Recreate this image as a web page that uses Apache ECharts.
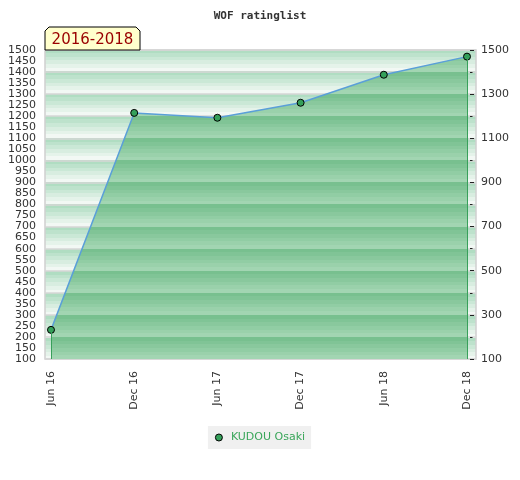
<!DOCTYPE html>
<html>
<head>
<meta charset="utf-8">
<script src="https://cdn.jsdelivr.net/npm/echarts@6/dist/echarts.min.js"></script>
<style>
    html, body { margin: 0; padding: 0; background: #fff; }
    #main { width: 520px; height: 480px; }
</style>
</head>
<body>
<div id="main"></div>
<script>
var months = ['Jun 16', 'Dec 16', 'Jun 17', 'Dec 17', 'Jun 18', 'Dec 18'];
var monthIdx = [0, 1, 2, 3, 4, 5];
var rating = [232, 1215, 1193, 1261, 1388, 1470];
var playerName = 'KUDOU Osaki';
var periodText = '2016-2018';
var yMin = 100, yMax = 1500;

var gridTop = 50, gridBottom = 121;
var gridH = 480 - gridTop - gridBottom;

function mix(a, b, t) {
    var r = '#';
    for (var i = 1; i < 7; i += 2) {
        var x = parseInt(a.substr(i, 2), 16), y = parseInt(b.substr(i, 2), 16);
        var v = Math.round(x + (y - x) * t).toString(16);
        r += (v.length < 2 ? '0' : '') + v;
    }
    return r;
}

// striped bands, one per 100 points, stepped from dark (top) to light (bottom)
function bandStops(dark, light) {
    var stops = [];
    var bands = (yMax - yMin) / 100, steps = 6;
    for (var k = 0; k < bands; k++) {
        for (var s = 0; s < steps; s++) {
            var c = mix(dark, light, s / (steps - 1));
            stops.push({ offset: (k + s / steps) / bands, color: c });
            stops.push({ offset: (k + (s + 1) / steps) / bands - 0.00001, color: c });
        }
    }
    return stops;
}

function plain(v) { return String(v); }

var myChart = echarts.init(document.getElementById('main'));

var option = {
    animation: false,
    title: {
        text: 'WOF ratinglist',
        left: 'center',
        top: 6,
        textStyle: { fontFamily: 'DejaVu Sans Mono', fontSize: 11, fontWeight: 'bold', color: '#333' }
    },
    legend: {
        data: [playerName],
        bottom: 31,
        left: 'center',
        icon: 'circle',
        itemWidth: 14,
        itemHeight: 7,
        padding: [6, 6, 6, 7],
        backgroundColor: '#f0f0f0',
        textStyle: { fontFamily: 'DejaVu Sans', fontSize: 11, color: '#3aa65a' },
        itemStyle: { borderColor: '#000', borderWidth: 1 }
    },
    grid: {
        left: 45,
        right: 44,
        top: gridTop,
        bottom: gridBottom,
        show: true,
        borderColor: '#d0d0d0',
        borderWidth: 1.5,
        backgroundColor: new echarts.graphic.LinearGradient(0, 0, 0, 1, bandStops('#b0ddc2', '#f2f8f4'))
    },
    graphic: [{
        type: 'polygon',
        z: 100,
        shape: { points: [[45, 50], [45, 31], [49, 27], [136, 27], [140, 31], [140, 50]] },
        style: { fill: '#ffffcc', stroke: '#000', lineWidth: 1 }
    }, {
        type: 'text',
        z: 101,
        x: 92.5,
        y: 40,
        style: {
            text: periodText, fill: '#990000', font: '15px "DejaVu Sans"',
            align: 'center', verticalAlign: 'middle'
        }
    }],
    xAxis: {
        type: 'value',
        min: -0.072,
        max: 5.108,
        axisLine: { show: false },
        axisTick: { show: false },
        splitLine: { show: false },
        axisLabel: {
            customValues: monthIdx,
            rotate: 90,
            margin: 12,
            fontFamily: 'DejaVu Sans',
            fontSize: 11,
            color: '#333',
            formatter: function(v) { return months[Math.round(v)]; }
        }
    },
    yAxis: [{
        type: 'value',
        position: 'left',
        min: yMin,
        max: yMax,
        interval: 50,
        axisLine: { show: false },
        axisTick: { show: false },
        splitLine: { show: false },
        axisLabel: { margin: 9, fontFamily: 'DejaVu Sans', fontSize: 11, color: '#333', formatter: plain }
    }, {
        type: 'value',
        position: 'right',
        offset: -6,
        min: yMin,
        max: yMax,
        interval: 200,
        axisLine: { show: false },
        axisTick: { show: true, length: 4, lineStyle: { color: '#222' } },
        minorTick: { show: true, splitNumber: 2, length: 2.5, lineStyle: { color: '#222' } },
        splitLine: { show: true, lineStyle: { color: '#d6d6d6', width: 1.5 } },
        minorSplitLine: { show: true, lineStyle: { color: '#d6d6d6', width: 1.5 } },
        axisLabel: { margin: 11, fontFamily: 'DejaVu Sans', fontSize: 11, color: '#333', formatter: plain }
    }],
    series: [{
        name: playerName,
        type: 'line',
        data: monthIdx.map(function(i) { return [i, rating[i]]; }),
        symbol: 'circle',
        symbolSize: 7,
        itemStyle: { color: '#34a05a', borderColor: '#000', borderWidth: 1 },
        lineStyle: { color: '#5a9fd8', width: 1.5 },
        areaStyle: {
            origin: 'start',
            opacity: 1,
            color: new echarts.graphic.LinearGradient(0, gridTop, 0, gridTop + gridH, bandStops('#78c08f', '#a2d5b2'), true)
        },
        // side edges of the filled area
        markLine: {
            silent: true,
            symbol: 'none',
            label: { show: false },
            lineStyle: { color: '#38a05a', width: 1, type: 'solid' },
            data: [
                [{ coord: [monthIdx[0], rating[0]] }, { coord: [monthIdx[0], yMin] }],
                [{ coord: [monthIdx[5], rating[5]] }, { coord: [monthIdx[5], yMin] }]
            ]
        }
    }]
};

myChart.setOption(option);
</script>
</body>
</html>
